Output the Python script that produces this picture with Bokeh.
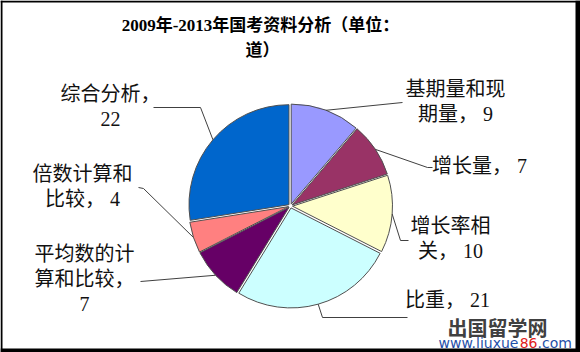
import math
from bokeh.plotting import figure
from bokeh.models import Range1d, ColumnDataSource
from bokeh.core.properties import value
from bokeh.embed import file_html
from bokeh.resources import INLINE

# ---- data ----
categories = ["基期量和现期量", "增长量", "增长率相关", "比重",
              "平均数的计算和比较", "倍数计算和比较", "综合分析"]
values = [9, 7, 10, 21, 7, 4, 22]
colors = ["#9999FF", "#993366", "#FFFFCC", "#CCFFFF", "#660066", "#FF8080", "#0066CC"]
title_lines = ["2009年-2013年国考资料分析（单位：", "道）"]
label_wrap = [5, 0, 4, 0, 5, 5, 5]
watermark_cn = "出国留学网"
watermark_url = ["www.liuxue", "86", ".com"]

# ---- layout (pixel coordinates, y measured from top) ----
W, H = 580, 352
def Y(py):
    return H - py

CX, CY, R, EXPL = 290, 205.5, 100, 2.0
label_anchor = [(455, 88), (479, 165), (450, 225), (447, 299), (84, 253), (82, 173), (110, 93)]
leader_pts = [
    [(402, 102)],
    [(427, 167), (432, 167)],
    [(400, 240), (408, 240)],
    [(322, 317), (407, 317)],
    [(140, 281)],
    [(143, 188), (138, 187)],
    [(200, 107), (153, 107)],
]
LINE_H = 25
SERIF = value("Liberation Serif, Noto Sans CJK SC")

p = figure(width=W, height=H, x_range=Range1d(0, W), y_range=Range1d(0, H),
           output_backend="svg", toolbar_location=None, min_border=0,
           x_axis_location=None, y_axis_location=None)
p.grid.visible = False
p.outline_line_color = None
p.background_fill_color = "white"
p.border_fill_color = "white"

# ---- pie ----
total = sum(values)
xs, ys, a0s, a1s, mids = [], [], [], [], []
cum = 0
for v in values:
    a0 = math.pi / 2 - 2 * math.pi * cum / total
    cum += v
    a1 = math.pi / 2 - 2 * math.pi * cum / total
    mid = (a0 + a1) / 2
    xs.append(CX + EXPL * math.cos(mid))
    ys.append(Y(CY) + EXPL * math.sin(mid))
    a0s.append(a0); a1s.append(a1); mids.append(mid)

src = ColumnDataSource(dict(x=xs, y=ys, s=a0s, e=a1s, c=colors))
p.wedge(x="x", y="y", radius=R, start_angle="s", end_angle="e", direction="clock",
        fill_color="c", line_color="#505050", line_width=1, source=src)

# ---- leader lines ----
lx, ly = [], []
for mid, pts in zip(mids, leader_pts):
    sx = CX + (R + EXPL) * math.cos(mid)
    sy = Y(CY) + (R + EXPL) * math.sin(mid)
    lx.append([sx] + [q[0] for q in pts])
    ly.append([sy] + [Y(q[1]) for q in pts])
p.multi_line(xs=lx, ys=ly, line_color="#404040", line_width=1)

# ---- data labels ----
def wrap_label(cat, v, wrap):
    head = f"{cat}，"
    tail = f" {v}"
    if not wrap:
        return [head + tail]
    lines = [head[i:i + wrap] for i in range(0, len(head), wrap)]
    if len(lines[-1]) < wrap:
        lines[-1] = lines[-1] + tail
    else:
        lines.append(tail.strip())
    return lines

tx, ty, tt = [], [], []
for cat, v, wrap, (ax, ay) in zip(categories, values, label_wrap, label_anchor):
    for k, l in enumerate(wrap_label(cat, v, wrap)):
        tx.append(ax); ty.append(Y(ay + k * LINE_H)); tt.append(l)
p.text(x=tx, y=ty, text=tt, text_align="center", text_baseline="middle",
       text_font=SERIF, text_font_size="20px", text_color="#111111")

# ---- title ----
p.text(x=[260, 262], y=[Y(25), Y(50)], text=title_lines, text_align="center",
       text_baseline="middle", text_font=SERIF, text_font_size="17px",
       text_font_style="bold", text_color="#000000")

# ---- frame border ----
p.quad(left=[0, 0, 575, 0], right=[2, 580, 580, 580],
       bottom=[0, Y(2), 0, 0], top=[H, H, H, Y(348)],
       fill_color="black", line_color=None)

# ---- watermark ----
p.text(x=[497], y=[Y(327)], text=[watermark_cn], text_align="center", text_baseline="middle",
       text_font=value("Noto Sans CJK SC"), text_font_size="20px", text_font_style="bold",
       text_color="#404040")
p.text(x=[438, 519.2, 537], y=[Y(342.5)] * 3, text=watermark_url, text_align="left",
       text_baseline="middle", text_font=value("DejaVu Sans"), text_font_size="14px",
       text_color=["#1f4fa8", "#e02020", "#1f4fa8"])

open("out.html", "w").write(file_html(p, INLINE))
